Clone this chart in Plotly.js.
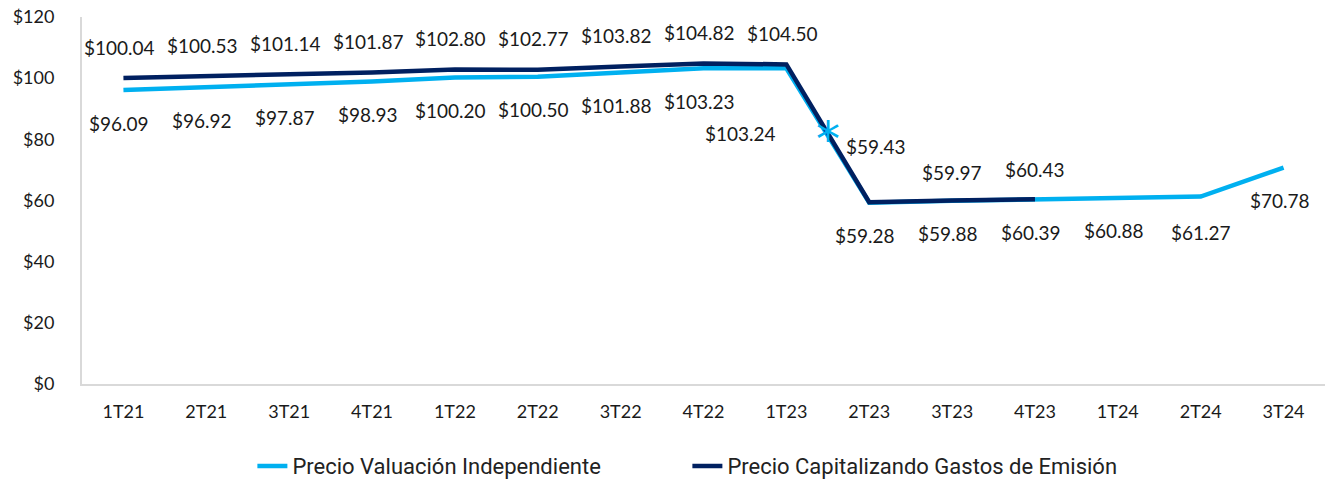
<!DOCTYPE html>
<html>
<head>
<meta charset="utf-8">
<script src="https://cdn.plot.ly/plotly-3.0.1.min.js"></script>
<style>html,body{margin:0;padding:0;background:#fff;}#chart{width:1327px;height:483px;}</style>
</head>
<body>
<div id="chart"></div>
<script>
const categories = ["1T21","2T21","3T21","4T21","1T22","2T22","3T22","4T22","1T23","2T23","3T23","4T23","1T24","2T24","3T24"];
const valuacion = [96.09,96.92,97.87,98.93,100.20,100.50,101.88,103.23,103.24,59.28,59.88,60.39,60.88,61.27,70.78];
const capitalizando = [100.04,100.53,101.14,101.87,102.80,102.77,103.82,104.82,104.50,59.43,59.97,60.43];
const yTicks = [0,20,40,60,80,100,120];
const seriesNames = ["Precio Valuación Independiente","Precio Capitalizando Gastos de Emisión"];
const asteriskValue = 83.7;

const LIGHT = "#00B0F0", DARK = "#002060";
const labelFont = {family: "Lato, 'Open Sans', sans-serif", size: 19, color: "#1a1a1a"};

// label offsets (pixels) – layout only
const lightShift = {default: [-4, -33], 8: [-46, -65], 13: [0, -36]};
const darkShift = {default: [-4, 31], 9: [7, 56], 10: [0, 28], 11: [0, 30]};

const fmt = v => "$" + v.toFixed(2);
const annotations = [];
valuacion.forEach((v, i) => {
  const s = lightShift[i] || lightShift.default;
  annotations.push({x: categories[i], y: v, text: fmt(v), showarrow: false, xshift: s[0], yshift: s[1], font: labelFont});
});
capitalizando.forEach((v, i) => {
  const s = darkShift[i] || darkShift.default;
  annotations.push({x: categories[i], y: v, text: fmt(v), showarrow: false, xshift: s[0], yshift: s[1], font: labelFont});
});
annotations.push({x: 8.5, y: asteriskValue, text: "*", showarrow: false, yshift: -11, font: {family: "DejaVu Sans", size: 48, color: LIGHT}});

const traces = [
  {x: categories, y: valuacion, name: seriesNames[0], type: "scatter", mode: "lines", line: {color: LIGHT, width: 4.5}},
  {x: categories.slice(0, capitalizando.length), y: capitalizando, name: seriesNames[1], type: "scatter", mode: "lines", line: {color: DARK, width: 4.5}}
];

const layout = {
  width: 1327, height: 483,
  margin: {l: 82, r: 2, t: 17, b: 99, autoexpand: false},
  paper_bgcolor: "#fff", plot_bgcolor: "#fff",
  font: {family: "Lato, 'Open Sans', sans-serif", color: "#1a1a1a"},
  showlegend: true,
  legend: {orientation: "h", xref: "container", x: 0.518, xanchor: "center", yref: "container", y: 0.035, yanchor: "middle",
           entrywidth: 390, entrywidthmode: "pixels",
           font: {family: "Roboto, sans-serif", size: 22, color: "#222"}, tracegroupgap: 0},
  xaxis: {type: "category", range: [-0.5, 14.5], autorange: false, showgrid: false, showline: true, linecolor: "#d9d9d9", linewidth: 2,
          ticks: "", tickfont: {size: 18, color: "#1a1a1a"}, ticklabelstandoff: 10, fixedrange: true},
  yaxis: {range: [0, 120], autorange: false, tickvals: yTicks, ticktext: yTicks.map(v => "$" + v), showgrid: false,
          zeroline: false, showline: true, linecolor: "#d9d9d9", linewidth: 2, ticks: "",
          tickfont: {size: 18, color: "#1a1a1a"}, ticklabelstandoff: 22, fixedrange: true},
  annotations: annotations
};

Plotly.newPlot("chart", traces, layout, {displayModeBar: false, staticPlot: true});
</script>
</body>
</html>
